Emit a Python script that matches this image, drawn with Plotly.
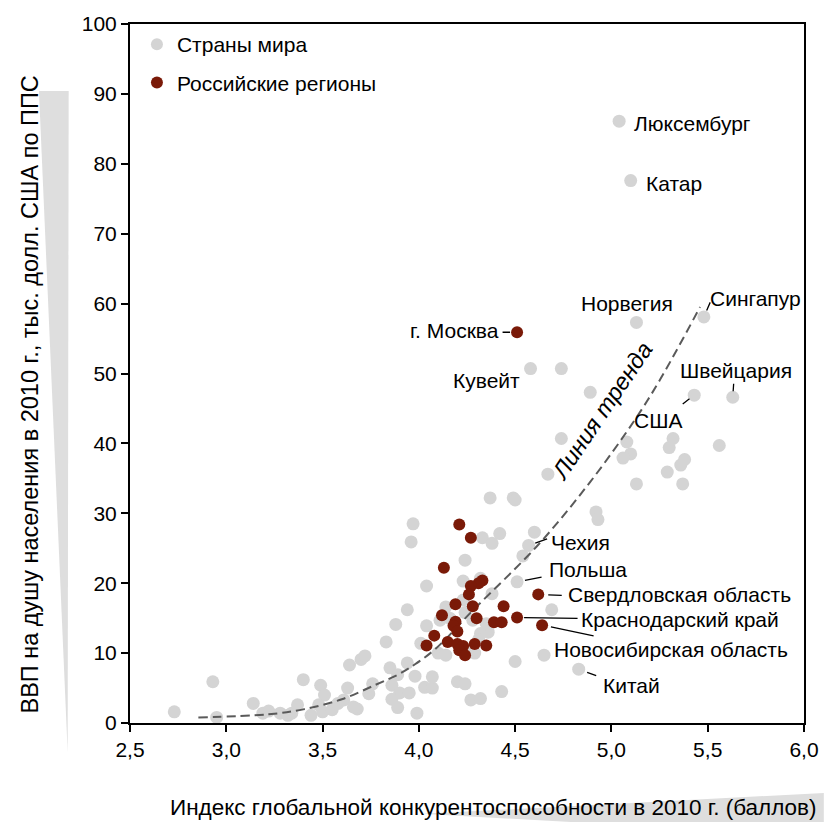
import plotly.graph_objects as go

# ---------------- data ----------------
# Countries of the world (unlabelled points): GCI 2010 index, GDP per capita (thousand USD PPP)
world_x = [2.73, 2.93, 2.95, 3.14, 3.19, 3.22, 3.28, 3.32, 3.34, 3.37, 3.40, 3.44, 3.49, 3.51,
           3.48, 3.50, 3.55, 3.58, 3.63, 3.61, 3.64, 3.70, 3.72, 3.76, 3.74, 3.68, 3.66, 3.83,
           3.88, 3.94, 3.85, 3.89, 3.86, 3.90, 3.86, 3.89, 3.94, 3.98, 3.95, 3.99, 3.97, 3.96,
           4.03, 4.07, 4.07, 4.04, 4.37, 4.49, 4.50, 4.33, 4.38, 4.42, 4.60, 4.54, 4.24, 4.23,
           4.32, 4.04, 4.38, 4.23, 4.14, 4.11, 4.24, 4.28, 4.35, 4.36, 4.32, 4.31, 4.01, 4.69,
           4.10, 4.14, 4.26, 4.29, 4.65, 4.50, 4.20, 4.24, 4.27, 4.32, 4.43, 4.92, 4.93, 4.16,
           4.74, 4.89, 4.74, 4.67, 5.08, 5.10, 5.06, 5.13, 5.32, 5.30, 5.38, 5.36, 5.56, 5.29,
           5.37]
world_y = [1.6, 5.9, 0.8, 2.8, 1.4, 1.7, 1.4, 1.1, 1.4, 2.6, 6.2, 1.1, 5.4, 4.0,
           2.6, 1.6, 1.9, 2.8, 5.0, 3.3, 8.3, 9.1, 9.6, 5.6, 4.2, 2.0, 2.3, 11.6,
           14.1, 16.2, 7.9, 6.9, 5.4, 4.3, 3.4, 2.2, 8.6, 6.7, 4.3, 1.4, 28.5, 25.9,
           5.1, 5.0, 6.6, 13.9, 32.2, 32.2, 31.9, 26.5, 25.7, 27.1, 27.3, 23.9, 23.3, 20.3,
           20.7, 19.6, 18.5, 17.6, 16.6, 14.7, 15.8, 14.7, 14.2, 13.0, 12.8, 11.9, 11.4, 16.2,
           10.0, 9.7, 10.4, 10.0, 9.7, 8.8, 5.9, 5.6, 3.3, 3.5, 4.5, 30.2, 29.1, 15.0,
           50.7, 47.3, 40.7, 35.6, 40.2, 38.5, 37.9, 34.2, 40.7, 39.4, 37.7, 36.9, 39.7, 35.9,
           34.2]

# Labelled countries
country_names = ["Люксембург", "Катар", "Норвегия", "Сингапур", "Швейцария", "США",
                 "Кувейт", "Чехия", "Польша", "Китай"]
country_x = [5.04, 5.10, 5.13, 5.48, 5.63, 5.43, 4.58, 4.57, 4.51, 4.83]
country_y = [86.1, 77.6, 57.3, 58.1, 46.6, 46.9, 50.7, 25.4, 20.2, 7.7]

# Russian regions (unlabelled)
region_x = [4.21, 4.27, 4.13, 4.33, 4.31, 4.27, 4.26, 4.19, 4.28, 4.44, 4.12, 4.30, 4.39,
            4.43, 4.19, 4.18, 4.20, 4.08, 4.04, 4.15, 4.20, 4.23, 4.21, 4.24, 4.29, 4.35]
region_y = [28.4, 26.5, 22.2, 20.4, 20.0, 19.6, 18.4, 17.0, 16.7, 16.7, 15.4, 15.0, 14.4,
            14.4, 14.5, 13.9, 13.1, 12.5, 11.1, 11.6, 11.3, 11.0, 10.4, 9.7, 11.3, 11.1]

# Labelled Russian regions
region_names = ["г. Москва", "Свердловская область", "Краснодарский край", "Новосибирская область"]
region_lx = [4.51, 4.62, 4.51, 4.64]
region_ly = [55.9, 18.4, 15.1, 14.0]

# Trend line
trend_x = [2.855, 3.22, 3.40, 3.60, 3.77, 3.89, 3.98, 4.09, 4.28, 4.62, 4.89, 5.12, 5.25, 5.46]
trend_y = [0.8, 1.25, 1.95, 3.4, 5.4, 6.9, 8.4, 10.7, 16.1, 25.5, 34.5, 43.3, 49.0, 59.5]

x_ticks = [2.5, 3.0, 3.5, 4.0, 4.5, 5.0, 5.5, 6.0]
y_ticks = [0, 10, 20, 30, 40, 50, 60, 70, 80, 90, 100]

legend_world = "Страны мира"
legend_regions = "Российские регионы"
x_title = "Индекс глобальной конкурентоспособности в 2010 г. (баллов)"
y_title = "ВВП на душу населения в 2010 г., тыс. долл. США по ППС"
trend_label = "Линия тренда"

# ---------------- styles ----------------
FONT = "Liberation Sans, Arial, sans-serif"
FS = 21
GRAY = "#d4d4d4"
RED = "#7a1a08"
W, H = 831, 822
ML, MR, MT, MB = 130, 20, 23, 99
PW, PH = W - ML - MR, H - MT - MB
PL, PB = ML, H - MB   # plot-area left / bottom in page pixels

fig = go.Figure()

fig.add_trace(go.Scatter(
    x=world_x + country_x, y=world_y + country_y, mode="markers",
    marker=dict(size=13, color=GRAY), name=legend_world,
    legendgroup="a", cliponaxis=False, hoverinfo="skip"))

fig.add_trace(go.Scatter(
    x=trend_x, y=trend_y, mode="lines",
    line=dict(color="#5a5a5a", width=2, dash="9px,5px", shape="spline"),
    showlegend=False, hoverinfo="skip"))

fig.add_trace(go.Scatter(
    x=region_x + region_lx, y=region_y + region_ly, mode="markers",
    marker=dict(size=12, color=RED), name=legend_regions,
    legendgroup="b", cliponaxis=False, hoverinfo="skip"))

annotations = []
# text placements: (xanchor, xshift, yshift)
country_place = {
    "Люксембург": ("left", 13, -2),
    "Катар": ("left", 13, -3),
    "Норвегия": ("center", -9, 19),
    "Сингапур": ("left", 4, 18),
    "Швейцария": ("center", 3, 27),
    "США": ("center", -36, -25),
    "Кувейт": ("right", -9, -12),
    "Чехия": ("left", 20, 3),
    "Польша": ("left", 30, 12),
    "Китай": ("left", 22, -16),
}
region_place = {
    "г. Москва": ("right", -16, 2),
    "Свердловская область": ("left", 28, 0),
    "Краснодарский край": ("left", 62, -2),
    "Новосибирская область": ("left", 10, -24),
}
# leader lines: (ax, ay, standoff)
leaders = {
    "Сингапур": (7, -16, 7),
    "Швейцария": (1, -15, 6),
    "США": (-13, 10, 6),
    "Чехия": (20, -7, 7),
    "Польша": (26, -5, 8),
    "Китай": (19, 7, 9),
    "г. Москва": (-16, 0, 7),
    "Свердловская область": (25, 1, 10),
    "Краснодарский край": (62, 1, 7),
    "Новосибирская область": (53, 11, 9),
}

def add_label(name, x, y, place):
    xa, xs, ys = place
    annotations.append(dict(x=x, y=y, xref="x", yref="y", text=name, showarrow=False,
                            xanchor=xa, yanchor="middle", xshift=xs, yshift=ys,
                            font=dict(family=FONT, size=FS, color="black")))
    if name in leaders:
        ax, ay, so = leaders[name]
        annotations.append(dict(x=x, y=y, xref="x", yref="y", text="", showarrow=True,
                                arrowhead=0, arrowwidth=1.3, arrowcolor="black",
                                ax=ax, ay=ay, standoff=so))

for n, x, y in zip(country_names, country_x, country_y):
    add_label(n, x, y, country_place[n])
for n, x, y in zip(region_names, region_lx, region_ly):
    add_label(n, x, y, region_place[n])

def px2paper(px, py):
    return (px - PL) / PW, (PB - py) / PH

# axis titles
tx, ty = px2paper(497, 808)
annotations.append(dict(x=tx, y=ty, xref="paper", yref="paper", text=x_title, showarrow=False,
                        xanchor="center", yanchor="middle",
                        font=dict(family=FONT, size=22.5, color="black")))
tx, ty = px2paper(29, 394)
annotations.append(dict(x=tx, y=ty, xref="paper", yref="paper", text=y_title, showarrow=False,
                        textangle=-90, xanchor="center", yanchor="middle",
                        font=dict(family=FONT, size=23.5, color="black")))
# trend label
tx, ty = px2paper(607, 411)
annotations.append(dict(x=tx, y=ty, xref="paper", yref="paper", text="<i>" + trend_label + "</i>",
                        showarrow=False, textangle=-56, xanchor="center", yanchor="middle",
                        font=dict(family=FONT, size=23.5, color="black")))

# decorative wedges
def path(pts):
    s = ""
    for i, (px, py) in enumerate(pts):
        x, y = px2paper(px, py)
        s += ("M" if i == 0 else "L") + f"{x:.4f},{y:.4f} "
    return s + "Z"

shapes = [
    dict(type="path", xref="paper", yref="paper", path=path([(38, 90), (68, 90), (67, 752)]),
         fillcolor="#dedede", line=dict(width=0), layer="below"),
    dict(type="path", xref="paper", yref="paper", path=path([(425, 814), (831, 793), (831, 836)]),
         fillcolor="#dedede", line=dict(width=0), layer="below"),
]

axis_common = dict(showgrid=False, zeroline=False, showline=True, linecolor="black", linewidth=2,
                   mirror=True, ticks="outside", ticklen=7, tickwidth=2, tickcolor="black",
                   tickfont=dict(family=FONT, size=FS, color="black"))

fig.update_layout(
    width=W, height=H, autosize=False,
    margin=dict(l=ML, r=MR, t=MT, b=MB, pad=0),
    paper_bgcolor="white", plot_bgcolor="white",
    separators=", ",
    font=dict(family=FONT, size=FS, color="black"),
    xaxis=dict(range=[2.5, 6.0], tickvals=x_ticks, tickformat=".1f", **axis_common),
    yaxis=dict(range=[0, 100], tickvals=y_ticks, **axis_common),
    legend=dict(x=0.0103, y=1.0, xanchor="left", yanchor="top", bgcolor="rgba(0,0,0,0)",
                font=dict(family=FONT, size=FS, color="black"), tracegroupgap=8,
                itemsizing="constant"),
    annotations=annotations,
    shapes=shapes,
)

fig.write_html("out.html", config={"displayModeBar": False},
               post_script="document.body.style.margin='0px';document.body.style.overflow='hidden';")
